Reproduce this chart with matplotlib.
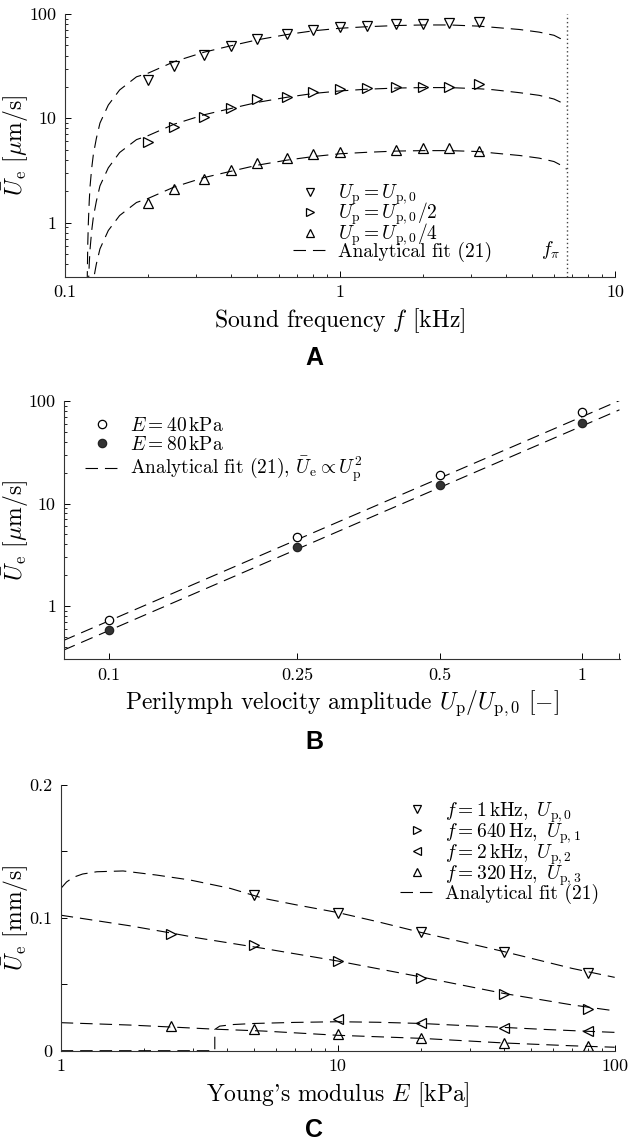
import numpy as np
import matplotlib
matplotlib.use('Agg')
import matplotlib.pyplot as plt
from matplotlib.ticker import FixedLocator, FixedFormatter, NullFormatter, LogLocator
from matplotlib.lines import Line2D

plt.rcParams['font.family'] = 'serif'
plt.rcParams['font.serif'] = ['cmr10']
plt.rcParams['mathtext.fontset'] = 'cm'
plt.rcParams['axes.formatter.use_mathtext'] = True
plt.rcParams['lines.scale_dashes'] = False

# ---- panel A: mean velocity vs sound frequency ----
freq = [0.2, 0.25, 0.32, 0.4, 0.5, 0.64, 0.8, 1.0, 1.25, 1.6, 2.0, 2.5, 3.2]
ua_full = [23.3, 32, 40.4, 49.3, 57.5, 63.8, 70.2, 75.5, 77.3, 79.6, 79.6, 81.5, 83.2]
ua_half = [5.97, 8.2, 10.2, 12.5, 15.2, 16.1, 18.0, 19.0, 19.7, 20.1, 20.1, 20.1, 21.3]
freq_q = [0.2, 0.25, 0.32, 0.4, 0.5, 0.64, 0.8, 1.0, 1.6, 2.0, 2.5, 3.2]
ua_quarter = [1.53, 2.1, 2.6, 3.19, 3.75, 4.13, 4.55, 4.78, 4.97, 5.15, 5.15, 4.86]

fit_f = [0.1204, 0.121, 0.1216, 0.1225, 0.1233, 0.125, 0.1268, 0.13, 0.134, 0.1437,
         0.158, 0.182, 0.2, 0.25, 0.32, 0.4, 0.5, 0.64, 0.8, 1.0, 1.25, 1.6, 2.0, 2.5,
         3.2, 3.6, 4.5, 5.3, 6.0, 6.3, 6.5, 6.67]
fit_full = [0.26, 0.62, 1.0, 1.6, 2.2, 3.3, 4.5, 6.4, 9.0, 13.4, 18.7, 25, 27, 35, 43,
            49.5, 56.5, 63.5, 69, 73, 75.5, 77.5, 78.5, 78.5, 76.5, 74.6, 71, 67, 62.5,
            58.5, 56.5, 54]
fit_half = [0.065, 0.155, 0.25, 0.4, 0.55, 0.83, 1.13, 1.6, 2.25, 3.35, 4.7, 6.25, 6.8,
            8.8, 10.8, 12.4, 14.2, 15.9, 17.3, 18.3, 19.0, 19.5, 19.7, 19.7, 19.2, 18.8,
            17.6, 16.6, 15.3, 14.4, 13.8, 13.0]
fit_quarter = [0.016, 0.04, 0.063, 0.1, 0.14, 0.21, 0.28, 0.4, 0.56, 0.84, 1.17, 1.56,
               1.7, 2.2, 2.7, 3.1, 3.55, 3.97, 4.3, 4.57, 4.72, 4.85, 4.9, 4.9, 4.8,
               4.65, 4.4, 4.15, 3.85, 3.6, 3.45, 3.25]
f_pi = 6.67

# ---- panel B: mean velocity vs perilymph velocity amplitude ----
amp = [0.1, 0.25, 0.5, 1.0]
ub_40 = [0.73, 4.74, 18.97, 77.6]
ub_80 = [0.58, 3.79, 15.1, 60.6]
fitb_x = [0.08, 1.2]
fitb_40 = [0.46, 101]
fitb_80 = [0.37, 82]

# ---- panel C: mean velocity vs Young's modulus ----
e_1k = [5, 10, 20, 40, 80]
uc_1k = [0.117, 0.1039, 0.0891, 0.0745, 0.0583]
e_640 = [2.5, 5, 10, 20, 40, 80]
uc_640 = [0.0878, 0.0793, 0.0675, 0.0550, 0.0424, 0.0311]
e_2k = [10, 20, 40, 80]
uc_2k = [0.0236, 0.0206, 0.0173, 0.0151]
e_320 = [2.5, 5, 10, 20, 40, 80]
uc_320 = [0.0188, 0.0161, 0.0123, 0.0098, 0.0056, 0.0035]

fitc_e1 = [1.0, 1.05, 1.11, 1.2, 1.35, 1.68, 2.22, 2.93, 4.09, 5.39, 7, 10, 14, 20, 28, 40, 56, 70, 100]
fitc_1k = [0.122, 0.127, 0.1305, 0.133, 0.1347, 0.1353, 0.1322, 0.1285, 0.1222, 0.1147,
           0.110, 0.104, 0.097, 0.089, 0.082, 0.0745, 0.067, 0.062, 0.0552]
fitc_e2 = [1.0, 1.78, 2.5, 3.1, 5.39, 10, 20, 40, 70, 100]
fitc_640 = [0.102, 0.094, 0.0886, 0.085, 0.077, 0.0675, 0.0555, 0.043, 0.0345, 0.030]
fitc_e3 = [1.0, 3.6, 3.6, 3.75, 4.2, 5, 7, 10, 14, 20, 28, 40, 56, 80, 100]
fitc_2k = [0.0, 0.0, 0.016, 0.0185, 0.0197, 0.0205, 0.0213, 0.0218, 0.0214, 0.0205,
           0.019, 0.0175, 0.016, 0.0146, 0.0138]
fitc_e4 = [1.0, 1.78, 2.7, 3.6, 5.39, 10, 20, 40, 70, 100]
fitc_320 = [0.0211, 0.0193, 0.0175, 0.0162, 0.0148, 0.0116, 0.0093, 0.0058, 0.0037, 0.0026]

W, H = 628, 1142
fig = plt.figure(figsize=(W / 100, H / 100), dpi=100)


def ax_at(left, top, right, bottom):
    return fig.add_axes([left / W, 1 - bottom / H, (right - left) / W, (bottom - top) / H])


dash = dict(color='black', lw=0.8, dashes=[9, 5])
mk = dict(ls='none', mfc='none', mec='black', ms=7, mew=0.9)
mk_leg = dict(ls='none', mfc='none', mec='black', ms=6, mew=0.9)
tick_fs = 13
label_fs = 17
leg_fs = 14
leg_kw = dict(loc='upper left', frameon=False, fontsize=leg_fs, borderpad=0, borderaxespad=0,
              handlelength=1.75, handletextpad=0.55)


def style(ax):
    for s in ['top', 'right']:
        ax.spines[s].set_visible(False)
    for s in ['left', 'bottom']:
        ax.spines[s].set_linewidth(0.8)
        ax.spines[s].set_color('#333333')
    ax.tick_params(which='major', direction='in', length=4, width=0.7, labelsize=tick_fs, pad=6)
    ax.tick_params(which='minor', direction='in', length=2.5, width=0.6)


def fit_handle():
    return Line2D([], [], **dash)


# ---------------- A ----------------
ax = ax_at(65, 14, 615, 276.7)
ax.set_xscale('log')
ax.set_yscale('log')
ax.plot(fit_f, fit_full, **dash)
ax.plot(fit_f, fit_half, **dash)
ax.plot(fit_f, fit_quarter, **dash)
ax.plot(freq, ua_full, marker='v', **mk)
ax.plot(freq, ua_half, marker='>', **mk)
ax.plot(freq_q, ua_quarter, marker='^', **mk)
ax.axvline(f_pi, color='#444444', lw=1.0, ls=(0, (1, 2)))
ax.text(6.3, 0.55, r'$f_\pi$', fontsize=leg_fs, ha='right', va='center')
ax.set_xlim(0.1, 10)
ax.set_ylim(0.303, 100)
ax.xaxis.set_major_locator(FixedLocator([0.1, 1, 10]))
ax.xaxis.set_major_formatter(FixedFormatter(['0.1', '1', '10']))
ax.yaxis.set_major_locator(FixedLocator([1, 10, 100]))
ax.yaxis.set_major_formatter(FixedFormatter(['1', '10', '100']))
for a in (ax.xaxis, ax.yaxis):
    a.set_minor_locator(LogLocator(base=10, subs=np.arange(2, 10)))
    a.set_minor_formatter(NullFormatter())
style(ax)
ax.set_xlabel(r'Sound frequency $f$ [kHz]', fontsize=label_fs, labelpad=4)
ax.set_ylabel(r'$\bar{U}_\mathrm{e}$ $[\mu\mathrm{m/s}]$', fontsize=label_fs)
ax.yaxis.set_label_coords(-0.062, 0.5)
hA = [Line2D([], [], marker='v', **mk_leg), Line2D([], [], marker='>', **mk_leg),
      Line2D([], [], marker='^', **mk_leg), fit_handle()]
ax.legend(hA, [r'$U_\mathrm{p}=U_{\mathrm{p},0}$', r'$U_\mathrm{p}=U_{\mathrm{p},0}/2$',
               r'$U_\mathrm{p}=U_{\mathrm{p},0}/4$', 'Analytical fit (21)'],
          bbox_to_anchor=(0.4145, 0.36), labelspacing=-0.3, **leg_kw)

# ---------------- B ----------------
ax = ax_at(64.3, 401, 620.3, 659.3)
ax.set_xscale('log')
ax.set_yscale('log')
ax.plot(fitb_x, fitb_40, **dash)
ax.plot(fitb_x, fitb_80, **dash)
ax.plot(amp, ub_40, ls='none', marker='o', mfc='white', mec='black', ms=6, mew=0.9)
ax.plot(amp, ub_80, ls='none', marker='o', mfc='#333333', mec='#222222', ms=6, mew=0.9)
ax.set_xlim(0.0804, 1.205)
ax.set_ylim(0.302, 100)
ax.xaxis.set_major_locator(FixedLocator([0.1, 0.25, 0.5, 1]))
ax.xaxis.set_major_formatter(FixedFormatter(['0.1', '0.25', '0.5', '1']))
ax.xaxis.set_minor_locator(FixedLocator([1.2]))
ax.xaxis.set_minor_formatter(NullFormatter())
ax.yaxis.set_major_locator(FixedLocator([1, 10, 100]))
ax.yaxis.set_major_formatter(FixedFormatter(['1', '10', '100']))
ax.yaxis.set_minor_locator(LogLocator(base=10, subs=np.arange(2, 10)))
ax.yaxis.set_minor_formatter(NullFormatter())
style(ax)
ax.tick_params(axis='x', which='minor', length=4)
ax.set_xlabel(r'Perilymph velocity amplitude $U_\mathrm{p}/U_{\mathrm{p},0}$ $[-]$',
              fontsize=label_fs, labelpad=4)
ax.set_ylabel(r'$\bar{U}_\mathrm{e}$ $[\mu\mathrm{m/s}]$', fontsize=label_fs)
ax.yaxis.set_label_coords(-0.06, 0.5)
hB = [Line2D([], [], ls='none', marker='o', mfc='white', mec='black', ms=6, mew=0.9),
      Line2D([], [], ls='none', marker='o', mfc='#333333', mec='#222222', ms=6, mew=0.9),
      fit_handle()]
ax.legend(hB, [r'$E=40\,\mathrm{kPa}$', r'$E=80\,\mathrm{kPa}$',
               r'Analytical fit (21), $\bar{U}_\mathrm{e}\propto U_\mathrm{p}^2$'],
          bbox_to_anchor=(0.037, 0.938), labelspacing=0.05, **leg_kw)

# ---------------- C ----------------
ax = ax_at(60.7, 785, 614.7, 1050.7)
ax.set_xscale('log')
ax.plot(fitc_e1, fitc_1k, **dash)
ax.plot(fitc_e2, fitc_640, **dash)
ax.plot(fitc_e3, fitc_2k, **dash)
ax.plot(fitc_e4, fitc_320, **dash)
ax.plot(e_1k, uc_1k, marker='v', **mk)
ax.plot(e_640, uc_640, marker='>', **mk)
ax.plot(e_2k, uc_2k, marker='<', **mk)
ax.plot(e_320, uc_320, marker='^', **mk)
ax.set_xlim(1, 100)
ax.set_ylim(0, 0.2)
ax.xaxis.set_major_locator(FixedLocator([1, 10, 100]))
ax.xaxis.set_major_formatter(FixedFormatter(['1', '10', '100']))
ax.xaxis.set_minor_locator(LogLocator(base=10, subs=np.arange(2, 10)))
ax.xaxis.set_minor_formatter(NullFormatter())
ax.yaxis.set_major_locator(FixedLocator([0, 0.05, 0.1, 0.15, 0.2]))
ax.yaxis.set_major_formatter(FixedFormatter(['0', '', '0.1', '', '0.2']))
style(ax)
ax.set_xlabel(r"Young's modulus $E$ [kPa]", fontsize=label_fs, labelpad=4)
ax.set_ylabel(r'$\bar{U}_\mathrm{e}$ [mm/s]', fontsize=label_fs)
ax.yaxis.set_label_coords(-0.054, 0.5)
mk_c = dict(mk_leg, ms=5.5)
hC = [Line2D([], [], marker='v', **mk_c), Line2D([], [], marker='>', **mk_c),
      Line2D([], [], marker='<', **mk_c), Line2D([], [], marker='^', **mk_c), fit_handle()]
ax.legend(hC, [r'$f=1\,\mathrm{kHz},\ U_{\mathrm{p},0}$', r'$f=640\,\mathrm{Hz},\ U_{\mathrm{p},1}$',
               r'$f=2\,\mathrm{kHz},\ U_{\mathrm{p},2}$', r'$f=320\,\mathrm{Hz},\ U_{\mathrm{p},3}$',
               'Analytical fit (21)'],
          bbox_to_anchor=(0.6125, 0.9435), labelspacing=-0.18, **leg_kw)

# panel letters
for letter, yp in [('A', 358), ('B', 742), ('C', 1130)]:
    fig.text(0.5, 1 - yp / H, letter, fontfamily='Liberation Sans', fontweight='bold',
             fontsize=18, ha='center', va='center')

fig.savefig('out.png', dpi=100)
